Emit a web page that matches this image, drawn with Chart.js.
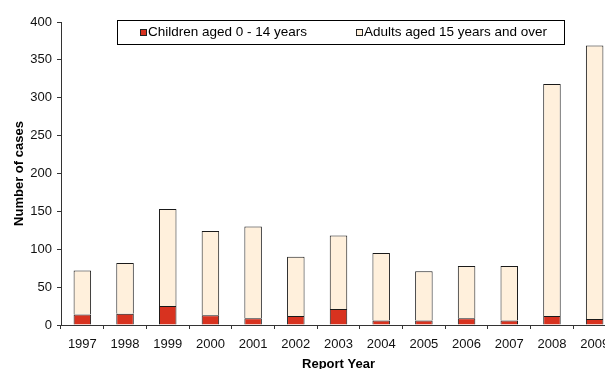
<!DOCTYPE html>
<html>
<head>
<meta charset="utf-8">
<script src="https://cdn.jsdelivr.net/npm/chart.js@4/dist/chart.umd.min.js"></script>
<style>
  html, body { margin: 0; padding: 0; background: #fff; overflow: hidden; }
  #wrap { width: 620px; height: 369px; }
</style>
</head>
<body>
<div id="wrap"><canvas id="c" width="620" height="369"></canvas></div>
<script>
// Report years and case counts by age group
const years = ['1997','1998','1999','2000','2001','2002','2003','2004','2005','2006','2007','2008','2009'];
const children = [14, 15, 25, 13, 9, 12, 21, 6, 6, 9, 6, 12, 8];
const adults = [58, 67, 128, 111, 121, 78, 97, 89, 65, 69, 72, 306, 361];
const yTicks = [0, 50, 100, 150, 200, 250, 300, 350, 400];

const FONT = "'Liberation Sans', Arial, sans-serif";

// Boxed legend drawn inside the plot area
const boxedLegend = {
  id: 'boxedLegend',
  afterDraw(chart) {
    const ctx = chart.ctx;
    const x0 = 117, y0 = 20, w = 447, h = 24;
    ctx.save();
    ctx.fillStyle = '#ffffff';
    ctx.fillRect(x0, y0, w, h);
    ctx.strokeStyle = '#000000';
    ctx.lineWidth = 1;
    ctx.strokeRect(x0 + 0.5, y0 + 0.5, w, h);
    ctx.font = '13.5px ' + FONT;
    ctx.textBaseline = 'middle';
    const itemX = [140, 356];
    chart.data.datasets.forEach((ds, i) => {
      const sx = itemX[i], cy = y0 + h / 2 + 0.5;
      ctx.fillStyle = ds.backgroundColor;
      ctx.fillRect(sx, cy - 3.5, 7, 7);
      ctx.strokeStyle = '#222';
      ctx.strokeRect(sx + 0.5, cy - 3.5 + 0.5, 6, 6);
      ctx.fillStyle = '#000';
      ctx.fillText(ds.label, sx + 8, cy);
    });
    ctx.restore();
  }
};

new Chart(document.getElementById('c'), {
  type: 'bar',
  data: {
    labels: years,
    datasets: [
      {
        label: 'Children aged 0 - 14 years',
        data: children,
        backgroundColor: '#d8321f',
        borderColor: '#1a1a1a',
        borderWidth: 1,
        barPercentage: 0.41,
        categoryPercentage: 1
      },
      {
        label: 'Adults aged 15 years and over',
        data: adults,
        backgroundColor: '#fff0dc',
        borderColor: '#1a1a1a',
        borderWidth: 1,
        barPercentage: 0.41,
        categoryPercentage: 1
      }
    ]
  },
  options: {
    responsive: false,
    animation: false,
    devicePixelRatio: 1,
    layout: { padding: { top: 22, right: 4, left: 0, bottom: 0 } },
    plugins: {
      legend: { display: false },
      tooltip: { enabled: false }
    },
    scales: {
      x: {
        stacked: true,
        offset: true,
        grid: {
          offset: true,
          drawOnChartArea: false,
          drawTicks: true,
          tickLength: 4,
          color: '#333'
        },
        border: { color: '#333', width: 1 },
        ticks: {
          color: '#111',
          font: { family: FONT, size: 13 },
          padding: 8,
          maxRotation: 0,
          autoSkip: false
        },
        title: {
          display: true,
          text: 'Report Year',
          color: '#000',
          font: { family: FONT, size: 13, weight: 'bold' },
          padding: { top: 2, bottom: -3 }
        },
        afterFit(scale) { scale.height = 44; }
      },
      y: {
        stacked: true,
        min: 0,
        max: 400,
        afterBuildTicks(scale) { scale.ticks = yTicks.map(v => ({ value: v })); },
        grid: {
          drawOnChartArea: false,
          drawTicks: true,
          tickLength: 4,
          color: '#333'
        },
        border: { color: '#333', width: 1 },
        ticks: {
          color: '#111',
          font: { family: FONT, size: 13 },
          padding: 5
        },
        title: {
          display: true,
          text: 'Number of cases',
          color: '#000',
          font: { family: FONT, size: 13, weight: 'bold' },
          padding: { top: 12, bottom: 0 }
        },
        afterFit(scale) { scale.width = 61; }
      }
    }
  },
  plugins: [boxedLegend]
});
</script>
</body>
</html>
